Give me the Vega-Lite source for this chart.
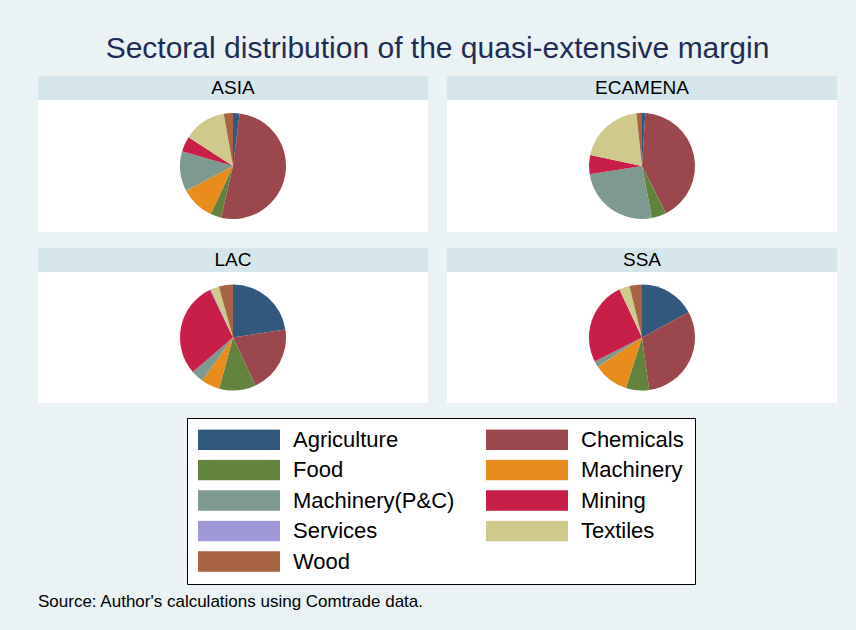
{
  "$schema": "https://vega.github.io/schema/vega-lite/v6.json",
  "background": "#EAF2F3",
  "padding": {"left": 38, "right": 19, "top": 34, "bottom": 20},
  "title": {
    "text": "Source: Author's calculations using Comtrade data.",
    "orient": "bottom",
    "anchor": "start",
    "fontSize": 17,
    "fontWeight": "normal",
    "color": "black",
    "font": "Liberation Sans",
    "offset": 9
  },
  "datasets": {
    "regions": [
      {"region": "ASIA"}, {"region": "ECAMENA"}, {"region": "LAC"}, {"region": "SSA"}
    ],
    "shares": [
      {"region": "ASIA", "sector": "Agriculture", "share": 2.0},
      {"region": "ASIA", "sector": "Chemicals", "share": 51.5},
      {"region": "ASIA", "sector": "Food", "share": 3.3},
      {"region": "ASIA", "sector": "Machinery", "share": 10.3},
      {"region": "ASIA", "sector": "Machinery(P&C)", "share": 12.2},
      {"region": "ASIA", "sector": "Mining", "share": 4.7},
      {"region": "ASIA", "sector": "Services", "share": 0.0},
      {"region": "ASIA", "sector": "Textiles", "share": 13.0},
      {"region": "ASIA", "sector": "Wood", "share": 2.8},
      {"region": "ECAMENA", "sector": "Agriculture", "share": 1.0},
      {"region": "ECAMENA", "sector": "Chemicals", "share": 41.5},
      {"region": "ECAMENA", "sector": "Food", "share": 4.5},
      {"region": "ECAMENA", "sector": "Machinery", "share": 0.0},
      {"region": "ECAMENA", "sector": "Machinery(P&C)", "share": 25.5},
      {"region": "ECAMENA", "sector": "Mining", "share": 5.8},
      {"region": "ECAMENA", "sector": "Services", "share": 0.0},
      {"region": "ECAMENA", "sector": "Textiles", "share": 20.0},
      {"region": "ECAMENA", "sector": "Wood", "share": 1.7},
      {"region": "LAC", "sector": "Agriculture", "share": 22.6},
      {"region": "LAC", "sector": "Chemicals", "share": 20.4},
      {"region": "LAC", "sector": "Food", "share": 11.2},
      {"region": "LAC", "sector": "Machinery", "share": 5.7},
      {"region": "LAC", "sector": "Machinery(P&C)", "share": 3.8},
      {"region": "LAC", "sector": "Mining", "share": 29.2},
      {"region": "LAC", "sector": "Services", "share": 0.3},
      {"region": "LAC", "sector": "Textiles", "share": 2.5},
      {"region": "LAC", "sector": "Wood", "share": 4.3},
      {"region": "SSA", "sector": "Agriculture", "share": 17.1},
      {"region": "SSA", "sector": "Chemicals", "share": 30.7},
      {"region": "SSA", "sector": "Food", "share": 7.1},
      {"region": "SSA", "sector": "Machinery", "share": 10.8},
      {"region": "SSA", "sector": "Machinery(P&C)", "share": 1.8},
      {"region": "SSA", "sector": "Mining", "share": 25.5},
      {"region": "SSA", "sector": "Services", "share": 0.0},
      {"region": "SSA", "sector": "Textiles", "share": 3.2},
      {"region": "SSA", "sector": "Wood", "share": 3.8}
    ]
  },
  "vconcat": [
    {
      "title": {
        "text": "Sectoral distribution of the quasi-extensive margin",
        "anchor": "middle",
        "fontSize": 30,
        "fontWeight": "normal",
        "color": "#1F2D55",
        "font": "Liberation Sans",
        "offset": 12
      },
      "spacing": 16,
      "vconcat": [
        {
          "spacing": 19,
          "hconcat": [
            {
              "spacing": 0,
              "vconcat": [
                {"width": 390, "height": 24, "view": {"fill": "#D6E6EB", "stroke": null}, "data": {"name": "regions"}, "transform": [{"filter": "datum.region === 'ASIA'"}], "mark": {"type": "text", "fontSize": 19, "font": "Liberation Sans", "color": "black"}, "encoding": {"text": {"field": "region"}}},
                {"width": 390, "height": 132, "view": {"fill": "white", "stroke": null}, "data": {"name": "shares"}, "transform": [{"filter": "datum.region === 'ASIA'"}], "mark": {"type": "arc", "outerRadius": 53}, "encoding": {"theta": {"field": "share", "type": "quantitative", "stack": true}, "order": {"field": "sector", "type": "ordinal", "sort": "ascending"}, "color": {"field": "sector", "type": "nominal"}}}
              ]
            },
            {
              "spacing": 0,
              "vconcat": [
                {"width": 390, "height": 24, "view": {"fill": "#D6E6EB", "stroke": null}, "data": {"name": "regions"}, "transform": [{"filter": "datum.region === 'ECAMENA'"}], "mark": {"type": "text", "fontSize": 19, "font": "Liberation Sans", "color": "black"}, "encoding": {"text": {"field": "region"}}},
                {"width": 390, "height": 132, "view": {"fill": "white", "stroke": null}, "data": {"name": "shares"}, "transform": [{"filter": "datum.region === 'ECAMENA'"}], "mark": {"type": "arc", "outerRadius": 53}, "encoding": {"theta": {"field": "share", "type": "quantitative", "stack": true}, "order": {"field": "sector", "type": "ordinal", "sort": "ascending"}, "color": {"field": "sector", "type": "nominal"}}}
              ]
            }
          ]
        },
        {
          "spacing": 19,
          "hconcat": [
            {
              "spacing": 0,
              "vconcat": [
                {"width": 390, "height": 24, "view": {"fill": "#D6E6EB", "stroke": null}, "data": {"name": "regions"}, "transform": [{"filter": "datum.region === 'LAC'"}], "mark": {"type": "text", "fontSize": 19, "font": "Liberation Sans", "color": "black"}, "encoding": {"text": {"field": "region"}}},
                {"width": 390, "height": 131, "view": {"fill": "white", "stroke": null}, "data": {"name": "shares"}, "transform": [{"filter": "datum.region === 'LAC'"}], "mark": {"type": "arc", "outerRadius": 53}, "encoding": {"theta": {"field": "share", "type": "quantitative", "stack": true}, "order": {"field": "sector", "type": "ordinal", "sort": "ascending"}, "color": {"field": "sector", "type": "nominal"}}}
              ]
            },
            {
              "spacing": 0,
              "vconcat": [
                {"width": 390, "height": 24, "view": {"fill": "#D6E6EB", "stroke": null}, "data": {"name": "regions"}, "transform": [{"filter": "datum.region === 'SSA'"}], "mark": {"type": "text", "fontSize": 19, "font": "Liberation Sans", "color": "black"}, "encoding": {"text": {"field": "region"}}},
                {"width": 390, "height": 131, "view": {"fill": "white", "stroke": null}, "data": {"name": "shares"}, "transform": [{"filter": "datum.region === 'SSA'"}], "mark": {"type": "arc", "outerRadius": 53}, "encoding": {"theta": {"field": "share", "type": "quantitative", "stack": true}, "order": {"field": "sector", "type": "ordinal", "sort": "ascending"}, "color": {"field": "sector", "type": "nominal"}}}
              ]
            }
          ]
        }
      ]
    }
  ],
  "config": {
    "font": "Liberation Sans",
    "concat": {"spacing": 0},
    "range": {
      "category": ["#32597D", "#9A474D", "#63823D", "#E88C1E", "#7E9A90", "#C71F48", "#9E98D9", "#CFC98B", "#A86343"]
    },
    "legend": {
      "orient": "none",
      "legendX": 149,
      "legendY": 342,
      "direction": "horizontal",
      "title": null,
      "columns": 2,
      "symbolType": "M-1,-0.25H1V0.25H-1Z",
      "symbolSize": 6724,
      "clipHeight": 21,
      "symbolStrokeWidth": 0,
      "symbolOpacity": 1,
      "labelFontSize": 22,
      "labelFont": "Liberation Sans",
      "labelColor": "black",
      "labelOffset": 13,
      "labelLimit": 400,
      "rowPadding": 7.5,
      "columnPadding": 31,
      "padding": 11,
      "fillColor": "white",
      "strokeColor": "black"
    }
  }
}
